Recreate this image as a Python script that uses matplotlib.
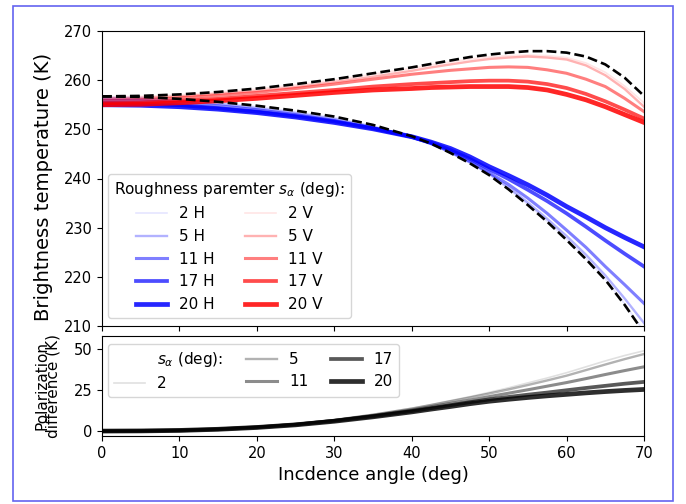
import matplotlib
matplotlib.use("Agg")
import matplotlib.pyplot as plt
from matplotlib.lines import Line2D
from matplotlib.patches import Rectangle

# ---- data ----
angle = [0, 5, 10, 15, 20, 25, 30, 35, 40, 42.5, 45, 47.5, 50, 52.5, 55, 57.5, 60, 62.5, 65, 67.5, 70]
roughness = [2, 5, 11, 17, 20]

flat_H = [256.7, 256.6, 256.2, 255.6, 254.8, 253.8, 252.6, 250.9, 248.6, 247.1, 245.2, 243.1, 240.7, 237.8, 234.6, 231.2, 227.5, 223.6, 219.4, 214.3, 208.6]
flat_V = [256.7, 256.8, 257.1, 257.6, 258.3, 259.2, 260.2, 261.4, 262.6, 263.3, 264.0, 264.7, 265.2, 265.6, 265.9, 265.9, 265.6, 264.8, 263.2, 260.5, 256.8]

TH_2 = [256.6, 256.5, 256.1, 255.5, 254.6, 253.6, 252.4, 250.7, 248.5, 247.0, 245.2, 243.1, 240.8, 237.9, 234.7, 231.3, 227.7, 223.8, 219.6, 214.5, 208.9]
TH_5 = [256.3, 256.2, 255.8, 255.2, 254.3, 253.3, 252.1, 250.5, 248.4, 247.0, 245.3, 243.3, 241.0, 238.2, 235.1, 231.8, 228.3, 224.5, 220.3, 215.6, 210.6]
TH_11 = [255.9, 255.8, 255.4, 254.8, 254.0, 253.0, 251.8, 250.3, 248.4, 247.1, 245.5, 243.5, 241.2, 238.8, 236.0, 232.9, 229.5, 226.0, 222.1, 218.4, 214.6]
TH_17 = [255.3, 255.2, 254.9, 254.3, 253.6, 252.7, 251.6, 250.2, 248.5, 247.3, 245.8, 244.0, 241.9, 239.9, 237.7, 235.4, 232.9, 230.2, 227.4, 224.7, 222.1]
TH_20 = [255.0, 254.9, 254.6, 254.1, 253.4, 252.5, 251.4, 250.1, 248.5, 247.4, 246.1, 244.4, 242.4, 240.6, 238.7, 236.6, 234.3, 232.2, 230.0, 228.0, 226.1]

TV_2 = [256.6, 256.7, 257.0, 257.5, 258.2, 259.0, 260.0, 261.2, 262.4, 263.1, 263.7, 264.3, 264.7, 265.0, 265.1, 265.0, 264.6, 263.5, 261.6, 258.8, 255.4]
TV_5 = [256.3, 256.4, 256.7, 257.2, 257.8, 258.6, 259.6, 260.7, 261.9, 262.6, 263.2, 263.8, 264.3, 264.6, 264.8, 264.6, 264.2, 263.0, 261.0, 258.2, 254.6]
TV_11 = [255.9, 256.0, 256.4, 256.9, 257.5, 258.3, 259.2, 260.2, 261.2, 261.6, 262.0, 262.3, 262.6, 262.7, 262.6, 262.1, 261.4, 260.2, 258.7, 256.3, 253.6]
TV_17 = [255.3, 255.4, 255.8, 256.2, 256.8, 257.4, 258.0, 258.7, 259.2, 259.4, 259.6, 259.8, 259.9, 259.9, 259.7, 259.2, 258.4, 257.2, 255.7, 254.0, 252.2]
TV_20 = [255.0, 255.1, 255.4, 255.8, 256.3, 256.9, 257.5, 258.0, 258.3, 258.5, 258.6, 258.7, 258.7, 258.7, 258.5, 258.0, 257.1, 256.0, 254.6, 253.0, 251.4]

PD_2 = [0.0, 0.1, 0.5, 1.3, 2.6, 4.4, 6.9, 10.2, 14.0, 16.2, 18.6, 21.0, 23.6, 26.4, 29.4, 32.4, 35.6, 39.2, 42.8, 46.1, 49.0]
PD_5 = [0.0, 0.1, 0.5, 1.3, 2.5, 4.3, 6.8, 10.0, 13.7, 15.9, 18.2, 20.5, 22.9, 25.4, 28.1, 30.9, 33.8, 37.2, 40.6, 43.9, 47.0]
PD_11 = [0.0, 0.1, 0.5, 1.2, 2.4, 4.1, 6.5, 9.5, 12.9, 14.9, 16.9, 18.9, 21.0, 23.1, 25.2, 27.4, 29.6, 32.0, 34.5, 36.9, 39.2]
PD_17 = [0.0, 0.1, 0.4, 1.1, 2.3, 3.9, 6.2, 9.0, 12.2, 14.0, 15.8, 17.6, 19.3, 20.8, 22.2, 23.5, 24.9, 26.3, 27.6, 28.9, 30.0]
PD_20 = [0.0, 0.1, 0.4, 1.1, 2.2, 3.8, 6.0, 8.7, 11.7, 13.4, 15.0, 16.7, 18.2, 19.4, 20.5, 21.5, 22.4, 23.3, 24.1, 24.8, 25.4]

TH = [TH_2, TH_5, TH_11, TH_17, TH_20]
TV = [TV_2, TV_5, TV_11, TV_17, TV_20]
PD = [PD_2, PD_5, PD_11, PD_17, PD_20]

# ---- styles ----
alphas = [0.1, 0.3, 0.5, 0.7, 0.85]
gray_alphas = [0.12, 0.3, 0.45, 0.65, 0.82]
widths = [1.2, 1.7, 2.2, 2.7, 3.4]

plt.rcParams['font.family'] = ['DejaVu Sans']
fig = plt.figure(figsize=(6.86, 5.04), dpi=100)
ax1 = fig.add_axes([102/686, 1-326/504, 542/686, 295/504])
ax2 = fig.add_axes([102/686, 1-436/504, 542/686, 100/504], sharex=ax1)

for s, h, a, w in zip(roughness, TH, alphas, widths):
    ax1.plot(angle, h, color='blue', alpha=a, lw=w, label=f'{s} H')
for s, v, a, w in zip(roughness, TV, alphas, widths):
    ax1.plot(angle, v, color='red', alpha=a, lw=w, label=f'{s} V')
ax1.plot(angle, flat_H, color='black', ls='--', lw=1.9, zorder=5)
ax1.plot(angle, flat_V, color='black', ls='--', lw=1.9, zorder=5)

ax1.set_xlim(0, 70)
ax1.set_ylim(210, 270)
ax1.set_yticks(range(210, 271, 10))
ax1.tick_params(labelsize=10.5, labelbottom=False)
ax1.set_ylabel('Brightness temperature (K)', fontsize=14.1)
ax1.yaxis.set_label_coords(-0.09, 0.47)

ax1.legend(ncol=2, loc='lower left', fontsize=11,
           title=r'Roughness paremter $s_\alpha$ (deg):', title_fontsize=11,
           bbox_to_anchor=(0.011, 0.027), borderaxespad=0, alignment='center',
           columnspacing=2.0, labelspacing=0.5)

handles = [Line2D([], [], color='none')]
labels = [r'$s_\alpha$ (deg):']
for s, p, a, w in zip(roughness, PD, gray_alphas, widths):
    ln, = ax2.plot(angle, p, color='black', alpha=a, lw=w)
    handles.append(ln)
    labels.append(f'{s}')
ax2.set_ylim(-3, 58)
ax2.set_yticks([0, 25, 50])
ax2.set_xticks(range(0, 71, 10))
ax2.tick_params(labelsize=10.5)
ax2.set_ylabel('Polarization\ndifference (K)', fontsize=11, linespacing=0.72)
ax2.yaxis.set_label_coords(-0.076, 0.5)
ax2.set_xlabel('Incdence angle (deg)', fontsize=13)
ax2.legend(handles, labels, ncol=3, loc='upper left', fontsize=11,
           columnspacing=1.5, labelspacing=0.45, borderaxespad=0,
           bbox_to_anchor=(0.011, 0.92))

fig.patches.append(Rectangle((13/686, 3/504), 660/686, 495/504, transform=fig.transFigure,
                             fill=False, edgecolor='#6464f0', lw=1.2))

fig.savefig('out.png', dpi=100)
